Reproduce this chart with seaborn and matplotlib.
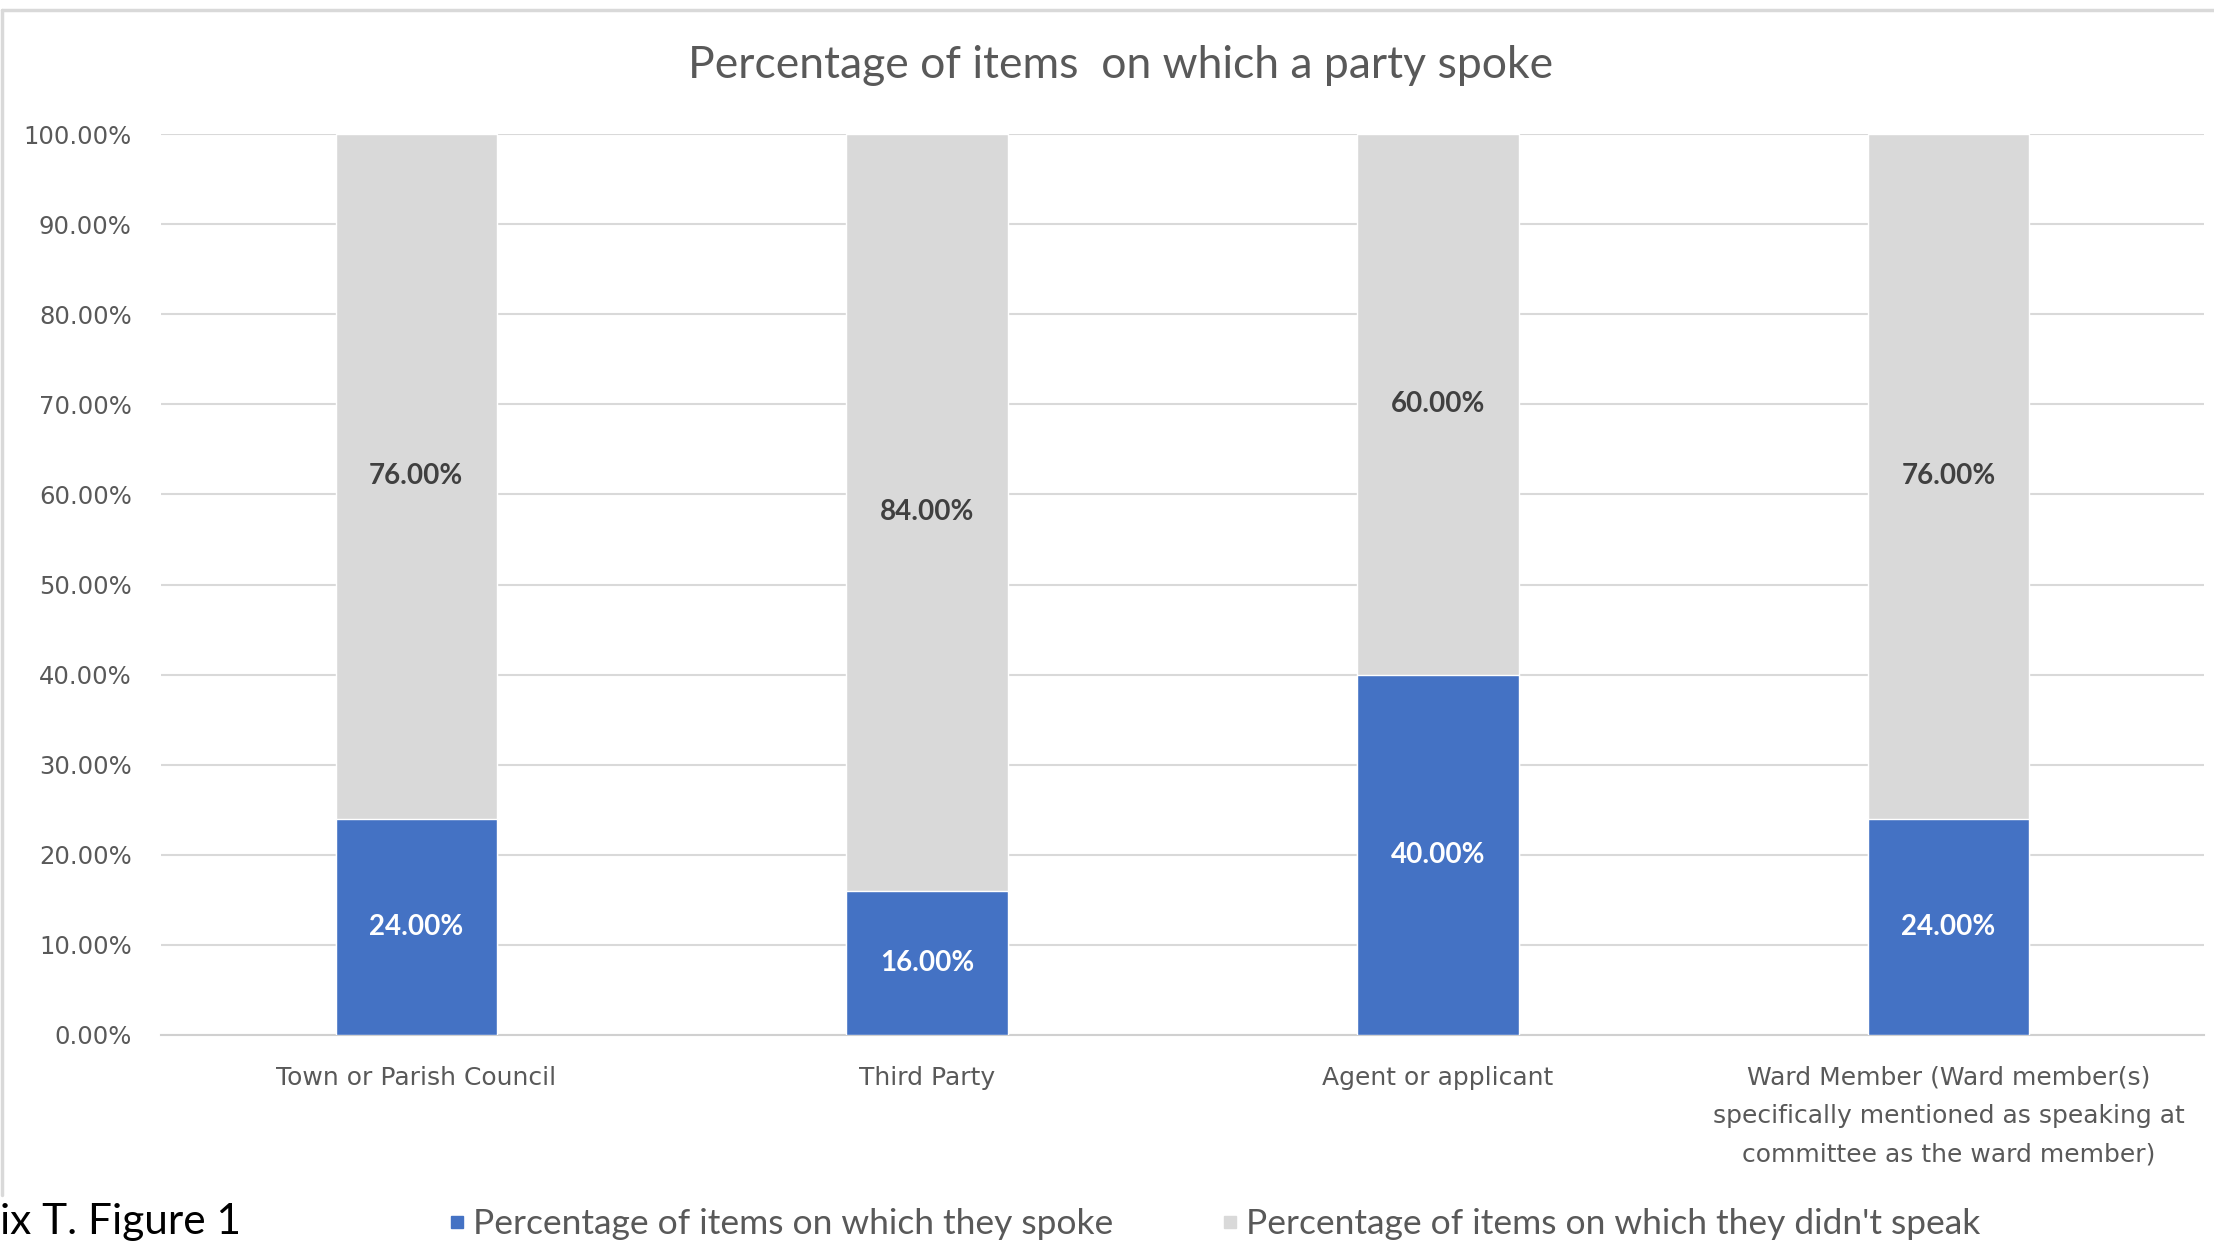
import matplotlib
matplotlib.use("Agg")
import matplotlib.pyplot as plt
from matplotlib.lines import Line2D
from matplotlib.ticker import PercentFormatter
import pandas as pd
import seaborn as sns

# values
categories = ["Town or Parish Council", "Third Party", "Agent or applicant",
              "Ward Member (Ward member(s)\nspecifically mentioned as speaking at\ncommittee as the ward member)"]
spoke = [24.0, 16.0, 40.0, 24.0]
didnt_speak = [76.0, 84.0, 60.0, 76.0]
series_names = ["Percentage of items on which they spoke",
                "Percentage of items on which they didn't speak"]

blue = "#4472C4"
grey = "#D9D9D9"

df = pd.DataFrame({"category": categories, "spoke": spoke, "didnt": didnt_speak})
df["total"] = df["spoke"] + df["didnt"]

sns.set_style("white")
plt.rcParams["font.family"] = ["DejaVu Sans"]

W, H = 2214, 1243
fig = plt.figure(figsize=(W / 100, H / 100), dpi=100)
ax = fig.add_axes([161 / W, 1 - 1035 / H, (2204 - 161) / W, (1035 - 134) / H])

# stacked bars: grey full height underneath, blue segment on top of it
sns.barplot(data=df, x="category", y="total", color=grey, width=0.316,
            saturation=1, ax=ax, zorder=2)
sns.barplot(data=df, x="category", y="spoke", color=blue, width=0.316,
            saturation=1, ax=ax, zorder=3)

for i, row in df.iterrows():
    ax.text(i, row["spoke"] / 2, f"{row['spoke']:.2f}%", ha="center", va="center",
            color="white", fontsize=20, fontweight="bold", family="Lato", zorder=4)
    ax.text(i, row["spoke"] + row["didnt"] / 2, f"{row['didnt']:.2f}%", ha="center",
            va="center", color="#404040", fontsize=20, fontweight="bold",
            family="Lato", zorder=4)

ax.set_ylim(0, 100)
ax.set_xlim(-0.5, 3.5)
ax.set_yticks(range(0, 101, 10))
ax.yaxis.set_major_formatter(PercentFormatter(decimals=2))
ax.grid(axis="y", color="#D9D9D9", linewidth=1.5, zorder=0)
ax.set_axisbelow(True)
ax.set_xlabel("")
ax.set_ylabel("")
for s in ["top", "right", "left"]:
    ax.spines[s].set_visible(False)
ax.spines["bottom"].set_color("#D0D0D0")
ax.spines["bottom"].set_linewidth(1.5)
ax.tick_params(axis="y", length=0, pad=21, labelsize=17.5, labelcolor="#595959")
ax.tick_params(axis="x", length=0, pad=22, labelsize=18, labelcolor="#595959")
for lbl in ax.get_xticklabels():
    lbl.set_linespacing(1.75)
    lbl.set_va("top")

fig.text(1121 / W, 1 - 65 / H, "Percentage of items  on which a party spoke",
         ha="center", va="center", fontsize=32, color="#595959", family="Lato")

handles = [Line2D([], [], marker="s", linestyle="", markersize=8, color=blue),
           Line2D([], [], marker="s", linestyle="", markersize=8, color=grey)]
fig.legend(handles, series_names, loc="center left", ncol=2,
           bbox_to_anchor=(446 / W, 1 - 1224 / H), frameon=False,
           prop={"family": "Lato", "size": 25.5}, labelcolor="#595959",
           handlelength=0.6, handletextpad=0.15, columnspacing=3.0,
           borderaxespad=0, borderpad=0)

# caption fragment at the lower left, kept just inside the canvas
fig.text(0, 2 / H, "ix T. Figure 1", ha="left", va="bottom",
         fontsize=30.5, color="black", family="Lato")

# chart area border (top and left edges visible in the crop)
fig.add_artist(Line2D([2 / W, 1], [1 - 10 / H, 1 - 10 / H], color="#D9D9D9", lw=2.5))
fig.add_artist(Line2D([2 / W, 2 / W], [1 - 10 / H, 1 - 1195 / H], color="#D9D9D9", lw=2.5))

fig.savefig("out.png", dpi=100)
